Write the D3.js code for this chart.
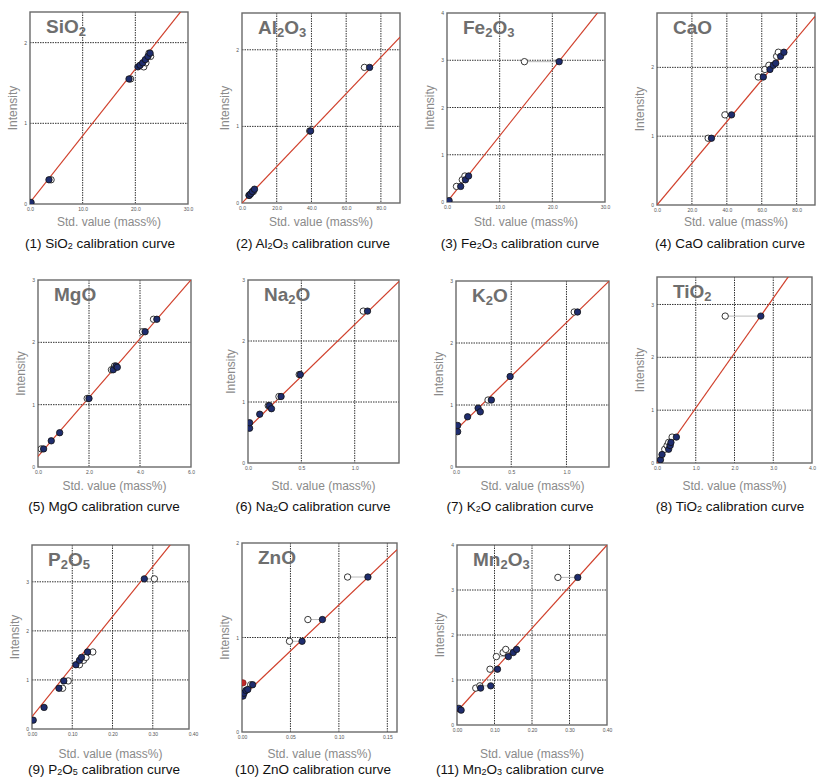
<!DOCTYPE html>
<html>
<head>
<meta charset="utf-8">
<script src="https://cdn.jsdelivr.net/npm/d3@7"></script>
<style>
  body { margin: 0; background: #fff; }
  svg text { font-family: Arial, "Liberation Sans", sans-serif; }
</style>
</head>
<body>
<svg id="chart" width="817" height="780"></svg>
<script>
// oxide names, digits are drawn as subscripts
const oxides = ["SiO2", "Al2O3", "Fe2O3", "CaO", "MgO", "Na2O", "K2O", "TiO2", "P2O5", "ZnO", "Mn2O3"];

// axis ranges and ticks
const xMax = [30, 91, 30, 90.5, 6, 1.415, 1.385, 4, 0.39, 0.16, 0.40];
const yMax = [2.38, 2.48, 4, 2.79, 3, 3, 3, 3.52, 3.75, 2, 4];
const xTicks = [
  [0, 10, 20, 30], [0, 20, 40, 60, 80], [0, 10, 20, 30], [0, 20, 40, 60, 80],
  [0, 2, 4, 6], [0, 0.5, 1], [0, 0.5, 1], [0, 1, 2, 3, 4],
  [0, 0.1, 0.2, 0.3, 0.4], [0, 0.05, 0.1, 0.15], [0, 0.1, 0.2, 0.3, 0.4]
];
const yTicks = [
  [0, 1, 2], [0, 1, 2], [0, 1, 2, 3, 4], [0, 1, 2],
  [0, 1, 2, 3], [0, 1, 2, 3], [0, 1, 2, 3], [0, 1, 2, 3],
  [0, 1, 2, 3], [0, 1, 2], [0, 1, 2, 3, 4]
];
const xFormats = [".1f", ".1f", ".1f", ".1f", ".1f", ".1f", ".1f", ".1f", ".2f", ".2f", ".2f"];

// calibration line: [slope, intercept]
const fits = [
  [0.0826, 0.02], [0.0238, 0], [0.14, 0], [0.0303, 0],
  [0.472, 0.17], [1.70, 0.57], [1.73, 0.6], [1.04, 0],
  [10.2, 0.25], [9.75, 0.37], [9.25, 0.3]
];

// samples: [std value (filled), calculated value (open) or null, intensity]
const siO2 = [
  [0.2, null, 0.02], [3.6, 4.0, 0.30], [18.8, 19.1, 1.55], [20.5, 21.6, 1.70],
  [20.9, null, 1.72], [21.4, 22.0, 1.75], [21.9, null, 1.79], [22.4, 22.9, 1.83],
  [22.8, 22.6, 1.87]
];
const al2O3 = [
  [4.2, 4.0, 0.10], [5.0, null, 0.12], [6.0, 6.5, 0.15], [7.2, null, 0.18],
  [39.5, 39.0, 0.94], [73.5, 70.5, 1.77]
];
const fe2O3 = [
  [0.4, null, 0.03], [2.6, 1.8, 0.33], [3.5, 2.9, 0.47], [4.1, 3.4, 0.55],
  [21.3, 14.7, 2.97]
];
const caO = [
  [31.2, 29.3, 0.97], [42.7, 38.9, 1.31], [60.9, 58.0, 1.86], [64.7, 61.8, 1.97],
  [66.6, 64.1, 2.03], [68.0, null, 2.06], [70.8, 68.5, 2.16], [72.7, 69.5, 2.22]
];
const mgO = [
  [0.22, 0.13, 0.29], [0.52, null, 0.42], [0.85, null, 0.55], [2.0, 1.93, 1.10],
  [2.95, 2.88, 1.56], [3.06, 3.0, 1.62], [3.11, null, 1.60], [4.2, 4.1, 2.17],
  [4.66, 4.53, 2.37]
];
const na2O = [
  [0.015, null, 0.57], [0.015, null, 0.66], [0.11, null, 0.80], [0.20, 0.19, 0.94],
  [0.22, null, 0.89], [0.31, 0.29, 1.09], [0.49, 0.48, 1.45], [1.12, 1.08, 2.49]
];
const k2O = [
  [0.015, null, 0.57], [0.015, null, 0.67], [0.105, null, 0.81], [0.20, null, 0.95],
  [0.22, null, 0.89], [0.32, 0.29, 1.08], [0.49, null, 1.46], [1.10, 1.07, 2.50]
];
const tiO2 = [
  [0.09, null, 0.06], [0.13, null, 0.16], [0.30, 0.20, 0.26], [0.34, 0.26, 0.33],
  [0.36, 0.30, 0.39], [0.50, 0.39, 0.49], [2.68, 1.76, 2.78]
];
const p2O5 = [
  [0.003, null, 0.18], [0.03, null, 0.44], [0.067, 0.076, 0.83], [0.079, 0.090, 0.98],
  [0.109, 0.118, 1.31], [0.118, 0.128, 1.40], [0.123, 0.134, 1.46], [0.138, 0.151, 1.57],
  [0.279, 0.304, 3.06]
];
const znO = [
  [0.001, null, 0.38], [0.002, null, 0.41], [0.004, null, 0.44], [0.006, null, 0.45],
  [0.011, 0.009, 0.50], [0.062, 0.049, 0.96], [0.083, 0.068, 1.19], [0.130, 0.109, 1.64]
];
const znORed = [[0.001, 0.52]];
const mn2O3 = [
  [0.005, null, 0.37], [0.011, null, 0.33], [0.063, 0.050, 0.82], [0.090, 0.061, 0.87],
  [0.108, 0.088, 1.24], [0.137, 0.105, 1.52], [0.150, 0.123, 1.61], [0.159, 0.130, 1.68],
  [0.322, 0.269, 3.28]
];
const samples = [siO2, al2O3, fe2O3, caO, mgO, na2O, k2O, tiO2, p2O5, znO, mn2O3];
const extras = { 9: znORed };

// plot boxes [x, y, w, h]
const boxes = [
  [30, 12, 158, 192], [242, 13, 158, 190], [447, 13, 158, 189], [657, 13, 158, 192],
  [38, 280, 153, 187], [248, 280, 151, 183], [456, 281, 153, 186], [657, 277, 155, 186],
  [32, 545, 157, 184], [242, 543, 155, 189], [457, 545, 150, 180]
];
const captionX = [100, 313, 520, 730, 104, 313, 520, 730, 104, 313, 520];
const rowLabelY = [226, 490, 758];
const rowCaptionY = [248, 511, 774];

const svg = d3.select("#chart");

// write formula with subscript digits into a text element, returns the baseline shift left over
function formula(sel, str, subSize, subShift) {
  let shifted = 0;
  str.match(/[A-Za-z]+|\d+/g).forEach(part => {
    const isSub = /\d/.test(part);
    const target = isSub ? subShift : 0;
    sel.append("tspan")
      .attr("font-size", isSub ? subSize : null)
      .attr("dy", target - shifted)
      .text(part);
    shifted = target;
  });
  return shifted;
}

oxides.forEach((name, i) => {
  const [bx, by, bw, bh] = boxes[i];
  const row = Math.floor(i / 4);
  const x = d3.scaleLinear().domain([0, xMax[i]]).range([0, bw]);
  const y = d3.scaleLinear().domain([0, yMax[i]]).range([bh, 0]);

  const g = svg.append("g").attr("transform", `translate(${bx},${by})`);

  g.append("clipPath").attr("id", `clip${i}`)
    .append("rect").attr("width", bw).attr("height", bh);

  // grid
  g.append("g").selectAll("line")
    .data(xTicks[i].filter(t => t > 0 && t < xMax[i]))
    .join("line")
    .attr("x1", d => x(d)).attr("x2", d => x(d))
    .attr("y1", 0).attr("y2", bh)
    .attr("stroke", "#333").attr("stroke-width", 1).attr("stroke-dasharray", "1.5,1");
  g.append("g").selectAll("line")
    .data(yTicks[i].filter(t => t > 0 && t < yMax[i]))
    .join("line")
    .attr("y1", d => y(d)).attr("y2", d => y(d))
    .attr("x1", 0).attr("x2", bw)
    .attr("stroke", "#333").attr("stroke-width", 1).attr("stroke-dasharray", "1.5,1");

  // axes (labels only)
  const xAxis = g.append("g").attr("transform", `translate(0,${bh})`)
    .call(d3.axisBottom(x).tickValues(xTicks[i]).tickFormat(d3.format(xFormats[i])).tickSize(0).tickPadding(3));
  const yAxis = g.append("g")
    .call(d3.axisLeft(y).tickValues(yTicks[i]).tickFormat(d3.format("d")).tickSize(0).tickPadding(3));
  [xAxis, yAxis].forEach(a => {
    a.select(".domain").remove();
    a.selectAll("text").attr("font-size", 5).attr("fill", "#555").attr("font-family", "Arial, sans-serif");
  });

  // frame
  g.append("rect").attr("width", bw).attr("height", bh)
    .attr("fill", "none").attr("stroke", "#6a6a6a").attr("stroke-width", 1.4);

  const plot = g.append("g").attr("clip-path", `url(#clip${i})`);

  // calibration line
  const [slope, icpt] = fits[i];
  plot.append("line")
    .attr("x1", x(0)).attr("y1", y(icpt))
    .attr("x2", x(xMax[i])).attr("y2", y(icpt + slope * xMax[i]))
    .attr("stroke", "#d0402c").attr("stroke-width", 1.2);

  const data = samples[i];
  const paired = data.filter(d => d[1] !== null);

  // connectors between calculated and std values
  plot.selectAll(".conn").data(paired).join("line")
    .attr("x1", d => x(d[1])).attr("x2", d => x(d[0]))
    .attr("y1", d => y(d[2])).attr("y2", d => y(d[2]))
    .attr("stroke", "#aaa").attr("stroke-width", 0.8);

  plot.selectAll(".open").data(paired).join("circle")
    .attr("cx", d => x(d[1])).attr("cy", d => y(d[2])).attr("r", 3.2)
    .attr("fill", "#fff").attr("stroke", "#222").attr("stroke-width", 0.9);

  plot.selectAll(".filled").data(data).join("circle")
    .attr("cx", d => x(d[0])).attr("cy", d => y(d[2])).attr("r", 3.2)
    .attr("fill", "#1f2d6e").attr("stroke", "#111").attr("stroke-width", 0.8);

  if (extras[i]) {
    plot.selectAll(".red").data(extras[i]).join("circle")
      .attr("cx", d => x(d[0])).attr("cy", d => y(d[1])).attr("r", 3.2)
      .attr("fill", "#c0282a").attr("stroke", "#6a1010").attr("stroke-width", 0.6);
  }

  // big oxide title
  const title = g.append("text")
    .attr("x", 16).attr("y", 21)
    .attr("font-size", 19).attr("font-weight", "bold").attr("fill", "#6e6e6e");
  formula(title, name, 13, 3);

  // axis titles
  svg.append("text")
    .attr("x", bx + bw / 2).attr("y", rowLabelY[row])
    .attr("text-anchor", "middle").attr("font-size", 12).attr("fill", "#8a8a8a")
    .text("Std. value (mass%)");
  svg.append("text")
    .attr("transform", `translate(${bx - 13},${by + bh / 2}) rotate(-90)`)
    .attr("text-anchor", "middle").attr("font-size", 12).attr("fill", "#8a8a8a")
    .text("Intensity");

  // caption
  const cap = svg.append("text")
    .attr("x", captionX[i]).attr("y", rowCaptionY[row])
    .attr("text-anchor", "middle").attr("font-size", 13.5).attr("fill", "#111");
  cap.append("tspan").text(`(${i + 1}) `);
  const left = formula(cap, name, 9, 1);
  cap.append("tspan").attr("dy", -left).text(" calibration curve");
});
</script>
</body>
</html>
